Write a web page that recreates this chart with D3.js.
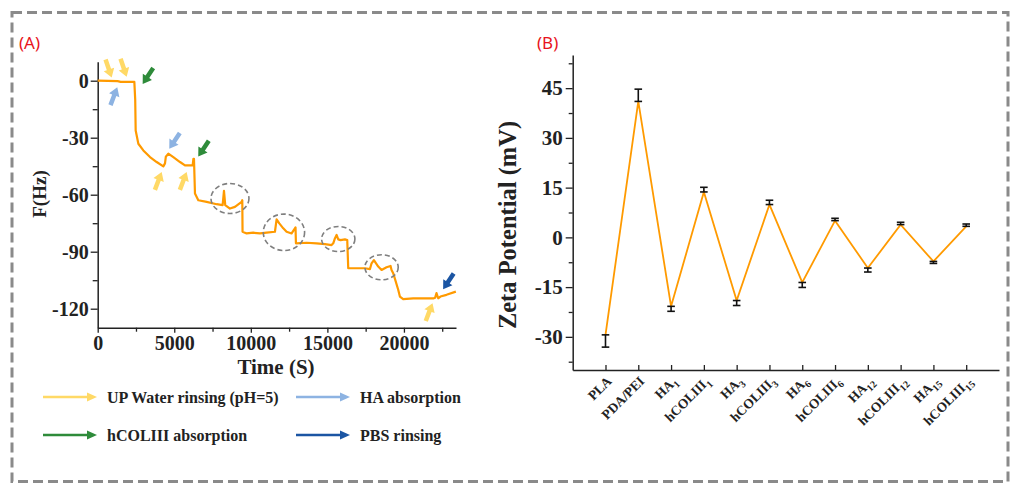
<!DOCTYPE html>
<html><head><meta charset="utf-8">
<script src="https://cdn.jsdelivr.net/npm/d3@7"></script>
<style>body{margin:0;background:#fff}svg{display:block}</style>
</head><body>
<svg id="c" width="1017" height="483"></svg>
<script>
// ---------- Panel A data ----------
const timeS = [0,1300,1500,2393,2450,2480,2655,2980,3416,3851,4286,4395,4450,4613,4939,5375,5701,6027,6201,6250,6288,6353,6571,7115,7768,8160,8247,8330,8638,8964,9400,9443,9460,9726,10161,10596,11031,11575,11684,11860,12119,12336,12663,12880,12920,12946,13642,14295,14839,15274,15383,15492,15601,15710,15862,16145,16297,16362,16906,17450,17777,17886,18038,18321,18539,18865,19126,19191,19300,19626,19735,19952,20605,21257,21910,22040,22127,22236,22388,22780,23390];
const freqHz = [0,-0.2,-0.6,-0.6,-10,-26.2,-33.2,-36.7,-40.2,-42.8,-45.1,-43.5,-40,-38.4,-40.2,-42.8,-44.6,-44.6,-44.6,-41.1,-41.1,-59.4,-62.9,-63.8,-65,-65.5,-58,-65.5,-67.3,-66.4,-63.8,-62.9,-79.5,-80.4,-80,-80.4,-80,-79.5,-73,-75.1,-77.7,-79.5,-80.4,-77.7,-77.2,-85.6,-85.3,-85.6,-86,-86.5,-85.6,-83,-81.2,-83.5,-83.9,-83.5,-83.9,-98.7,-98.7,-98.7,-99.2,-96.1,-94.4,-97.8,-99.6,-98.2,-97.5,-99.6,-101.3,-110,-113.6,-115,-114.6,-114.6,-114.6,-114.2,-111.8,-114.5,-113.6,-112.7,-111];
const aXTicks = [0,5000,10000,15000,20000];
const aYTicks = [0,-30,-60,-90,-120];
// highlighted regions (data units: centre time, centre F, half-width s, half-height Hz)
const ringT = [8638,12163,15710,18539];
const ringF = [-62.0,-79.8,-83.3,-98.2];
const ringRT = [1240,1349,1088,1088];
const ringRF = [7.9,9.6,6.6,6.6];
// arrow annotations: tip in data units, kind
const arrowT = [914,1893,1279,2937,4674,6567,4178,5809,21867,22559];
const arrowF = [1.7,2.1,-3.5,-1.7,-35.8,-39.9,-48.1,-48.1,-117.1,-109.8];
const arrowKind = ["up","up","ha","col","ha","col","up","up","up","pbs"];
const arrowDir = ["dr","dr","ur","dl","dl","dl","ur","ur","ur","dl"];
const legendKeys = ["up","ha","col","pbs"];
const legendLabels = ["UP Water rinsing (pH=5)","HA absorption","hCOLIII absorption","PBS rinsing"];

// ---------- Panel B data ----------
const categories = [["PLA",""],["PDA/PEI",""],["HA","1"],["hCOLIII","1"],["HA","3"],["hCOLIII","3"],["HA","6"],["hCOLIII","6"],["HA","12"],["hCOLIII","12"],["HA","15"],["hCOLIII","15"]];
const zeta = [-29.4,41.0,-20.8,13.7,-19.05,9.9,-13.6,5.05,-9.25,3.85,-7.26,3.33];
const zetaErr = [3.7,3.7,1.5,1.4,1.5,1.3,1.5,0.7,1.2,0.7,0.6,0.7];
const bYTicks = [-30,-15,0,15,30,45];

const colors = {up:"#ffd966", ha:"#8db3e2", col:"#2e8b3a", pbs:"#1b55a3"};
const orange = "#ff9a00";
const serif = "'Liberation Serif','Times New Roman',serif";
const fmt = d => String(d);

const svg = d3.select("#c");

// border
svg.append("rect").attr("x",12).attr("y",12.5).attr("width",996).attr("height",469)
  .attr("fill","none").attr("stroke","#8a8a8a").attr("stroke-width",3).attr("stroke-dasharray","10,5");

// panel labels
svg.append("text").attr("x",19).attr("y",49).text("(A)")
  .attr("font-family","'Noto Sans',sans-serif").attr("font-size",17).attr("fill","#e8141b");
svg.append("text").attr("x",537).attr("y",49).text("(B)")
  .attr("font-family","'Noto Sans',sans-serif").attr("font-size",17).attr("fill","#e8141b");

// ---------- Panel A ----------
const ax = d3.scaleLinear().domain([0,23400]).range([97.7,456]);
const ay = d3.scaleLinear().domain([-130,10]).range([327.7,61.7]);
const gA = svg.append("g");

function styleAxis(g, fs){
  g.selectAll("path.domain").attr("stroke","#222").attr("stroke-width",1.5);
  g.selectAll(".tick line").attr("stroke","#222").attr("stroke-width",1.3);
  g.selectAll("text").attr("font-family",serif).attr("font-weight","bold").attr("font-size",fs).attr("fill","#222");
}
// minor ticks
gA.append("g").attr("transform","translate(0,327.7)")
  .call(d3.axisBottom(ax).tickValues(d3.range(2500,23400,5000)).tickSize(4).tickFormat("").tickSizeOuter(0))
  .call(g=>{g.select(".domain").remove();g.selectAll(".tick line").attr("stroke","#222").attr("stroke-width",1.3);});
gA.append("g").attr("transform","translate(97.7,0)")
  .call(d3.axisLeft(ay).tickValues(d3.range(-105,0,30)).tickSize(5).tickFormat("").tickSizeOuter(0))
  .call(g=>{g.select(".domain").remove();g.selectAll(".tick line").attr("stroke","#222").attr("stroke-width",1.3);});
gA.append("g").attr("transform","translate(0,327.7)")
  .call(d3.axisBottom(ax).tickValues(aXTicks).tickSize(5).tickPadding(3).tickSizeOuter(0).tickFormat(fmt))
  .call(g=>styleAxis(g,20));
gA.append("g").attr("transform","translate(97.7,0)")
  .call(d3.axisLeft(ay).tickValues(aYTicks).tickSize(7).tickPadding(2).tickSizeOuter(0).tickFormat(fmt))
  .call(g=>styleAxis(g,20));

gA.append("text").attr("x",276).attr("y",374).attr("text-anchor","middle").text("Time (S)")
  .attr("font-family",serif).attr("font-weight","bold").attr("font-size",21).attr("fill","#222");
gA.append("text").attr("transform","translate(46,194) rotate(-90)").attr("text-anchor","middle").text("F(Hz)")
  .attr("font-family",serif).attr("font-weight","bold").attr("font-size",19).attr("fill","#222");

const lineA = d3.line().x((d,i)=>ax(timeS[i])).y((d,i)=>ay(freqHz[i]));
gA.append("path").datum(timeS).attr("d",lineA).attr("fill","none").attr("stroke",orange)
  .attr("stroke-width",2.2).attr("stroke-linejoin","round");

// rings
gA.selectAll("ellipse.ring").data(ringT).join("ellipse")
  .attr("cx",(d,i)=>ax(d)).attr("cy",(d,i)=>ay(ringF[i]))
  .attr("rx",(d,i)=>ax(ringRT[i])-ax(0)).attr("ry",(d,i)=>ay(0)-ay(ringRF[i]))
  .attr("fill","none").attr("stroke","#7f7f7f").attr("stroke-width",1.6).attr("stroke-dasharray","5,3");

// arrows
function arrowPath(x,y,dx,dy,len,shaft,head,headLen){
  const L=Math.hypot(dx,dy); const ux=dx/L, uy=dy/L; const px=-uy, py=ux;
  const bx=x-ux*len, by=y-uy*len; const hx=x-ux*headLen, hy=y-uy*headLen;
  const pts=[[bx+px*shaft/2,by+py*shaft/2],[hx+px*shaft/2,hy+py*shaft/2],[hx+px*head/2,hy+py*head/2],[x,y],
    [hx-px*head/2,hy-py*head/2],[hx-px*shaft/2,hy-py*shaft/2],[bx-px*shaft/2,by-py*shaft/2]];
  return "M"+pts.map(p=>p.join(",")).join("L")+"Z";
}
const dirVec = {dr:[5.7,16.7], ur:[6.5,-17], dl:[-10,15]};
gA.selectAll("path.arrow").data(arrowT).join("path")
  .attr("d",(d,i)=>{const v=dirVec[arrowDir[i]];return arrowPath(ax(d),ay(arrowF[i]),v[0],v[1],19,4.5,11,8.5);})
  .attr("fill",(d,i)=>colors[arrowKind[i]]);

// legend
const legX=[43,296], legY=[397,435];
const lg = svg.append("g");
legendKeys.forEach((k,i)=>{
  const x0=legX[i%2], y0=legY[Math.floor(i/2)];
  lg.append("line").attr("x1",x0).attr("x2",x0+46).attr("y1",y0).attr("y2",y0)
    .attr("stroke",colors[k]).attr("stroke-width",2.6);
  lg.append("path").attr("d",`M${x0+44},${y0-4.5}L${x0+54},${y0}L${x0+44},${y0+4.5}Z`).attr("fill",colors[k]);
  lg.append("text").attr("x",x0+64).attr("y",y0+5.5).text(legendLabels[i])
    .attr("font-family",serif).attr("font-weight","bold").attr("font-size",16).attr("fill","#222");
});

// ---------- Panel B ----------
const bx = d3.scaleLinear().domain([-1,12]).range([572.7,999]);
const by = d3.scaleLinear().domain([-40,55]).range([370,55]);
const gB = svg.append("g");
gB.append("g").attr("transform","translate(572.7,0)")
  .call(d3.axisLeft(by).tickValues(d3.range(-37.5,55,15)).tickSize(4).tickFormat("").tickSizeOuter(0))
  .call(g=>{g.select(".domain").remove();g.selectAll(".tick line").attr("stroke","#222").attr("stroke-width",1.3);});
gB.append("g").attr("transform","translate(572.7,0)")
  .call(d3.axisLeft(by).tickValues(bYTicks).tickSize(7).tickPadding(3).tickSizeOuter(0).tickFormat(fmt))
  .call(g=>styleAxis(g,21));
gB.append("g").attr("transform","translate(0,370)")
  .call(d3.axisBottom(bx).tickValues(d3.range(0,12)).tickSize(-5).tickFormat("").tickSizeOuter(0))
  .call(g=>styleAxis(g,12));
// category labels
const lbl = gB.selectAll("text.cat").data(categories).join("text")
  .attr("transform",(d,i)=>`translate(${bx(i)+7},${382}) rotate(-45)`)
  .attr("text-anchor","end").attr("font-family",serif).attr("font-weight","bold")
  .attr("font-size",13.5).attr("fill","#222");
lbl.append("tspan").text(d=>d[0]);
lbl.append("tspan").attr("font-size",10).attr("dy",4).text(d=>d[1]);

gB.append("text").attr("transform","translate(516,225) rotate(-90)").attr("text-anchor","middle")
  .text("Zeta Potential (mV)").attr("font-family",serif).attr("font-weight","bold")
  .attr("font-size",24.5).attr("fill","#222");

const lineB = d3.line().x((d,i)=>bx(i)).y(d=>by(d));
gB.append("path").datum(zeta).attr("d",lineB).attr("fill","none").attr("stroke",orange)
  .attr("stroke-width",1.8).attr("stroke-linejoin","miter");
// error bars (drawn away from zero, as in the reference)
const eb = gB.selectAll("g.eb").data(zeta).join("g");
eb.append("line").attr("x1",(d,i)=>bx(i)).attr("x2",(d,i)=>bx(i))
  .attr("y1",d=>by(d)).attr("y2",(d,i)=>by(d+Math.sign(d)*zetaErr[i]))
  .attr("stroke","#111").attr("stroke-width",1.6);
eb.append("line").attr("x1",(d,i)=>bx(i)-3.8).attr("x2",(d,i)=>bx(i)+3.8)
  .attr("y1",d=>by(d)).attr("y2",d=>by(d)).attr("stroke","#111").attr("stroke-width",1.6);
eb.append("line").attr("x1",(d,i)=>bx(i)-3.8).attr("x2",(d,i)=>bx(i)+3.8)
  .attr("y1",(d,i)=>by(d+Math.sign(d)*zetaErr[i])).attr("y2",(d,i)=>by(d+Math.sign(d)*zetaErr[i]))
  .attr("stroke","#111").attr("stroke-width",1.6);
</script>
</body></html>
